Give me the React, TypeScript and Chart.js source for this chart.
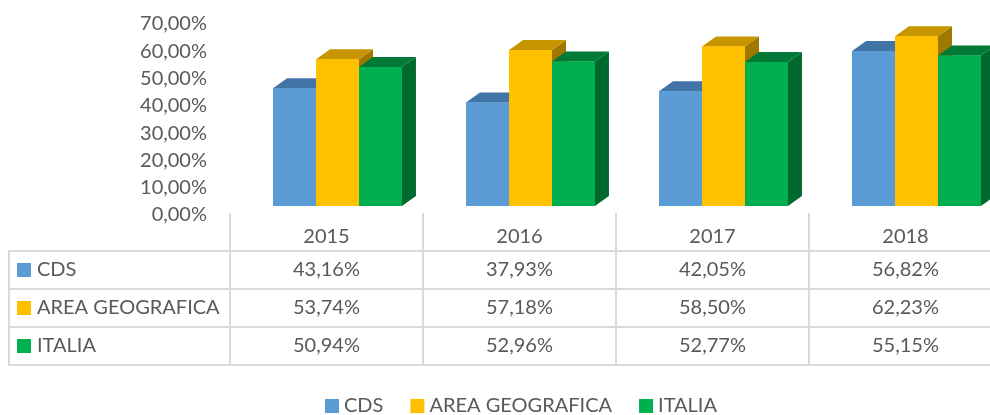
import React, { useEffect, useRef } from "react";
import { Chart, registerables } from "chart.js";

Chart.register(...registerables);

// ---- data ----
const categories = ["2015", "2016", "2017", "2018"];
const seriesNames = ["CDS", "AREA GEOGRAFICA", "ITALIA"];
const cdsValues = [43.16, 37.93, 42.05, 56.82];
const areaGeograficaValues = [53.74, 57.18, 58.5, 62.23];
const italiaValues = [50.94, 52.96, 52.77, 55.15];
const yMin = 0;
const yMax = 70;
const yStep = 10;

// ---- styles ----
const FRONT = ["#5B9BD5", "#FFC000", "#00B050"];
const TOP = ["#4374A8", "#C69500", "#007A36"];
const SIDE = ["#355E88", "#A07800", "#00692E"];
const TEXT = "#595959";
const GRID = "#D9D9D9";
const FONT = "Lato";
const FONT_SIZE = 20;
const DEPTH_X = 14;
const DEPTH_Y = 10;
const TABLE_SHIFT = 11;

const fmt = (v: number) => v.toFixed(2).replace(".", ",") + "%";

const threeD = {
  id: "threeD",
  afterDatasetsDraw(chart: any) {
    const ctx = chart.ctx;
    const metas = chart.data.datasets.map((_: any, i: number) => chart.getDatasetMeta(i));
    ctx.save();
    categories.forEach((_, c) => {
      metas.forEach((meta: any, i: number) => {
        const el = meta.data[c];
        if (!el) return;
        const p = el.getProps(["x", "y", "base", "width"], true);
        const l = p.x - p.width / 2;
        const r = p.x + p.width / 2;
        // side
        ctx.fillStyle = SIDE[i];
        ctx.beginPath();
        ctx.moveTo(r, p.y);
        ctx.lineTo(r + DEPTH_X, p.y - DEPTH_Y);
        ctx.lineTo(r + DEPTH_X, p.base - DEPTH_Y);
        ctx.lineTo(r, p.base);
        ctx.closePath();
        ctx.fill();
        // top
        ctx.fillStyle = TOP[i];
        ctx.beginPath();
        ctx.moveTo(l, p.y);
        ctx.lineTo(l + DEPTH_X, p.y - DEPTH_Y);
        ctx.lineTo(r + DEPTH_X, p.y - DEPTH_Y);
        ctx.lineTo(r, p.y);
        ctx.closePath();
        ctx.fill();
        // front
        ctx.fillStyle = FRONT[i];
        ctx.fillRect(l, p.y, p.width, p.base - p.y);
      });
    });
    ctx.restore();
  },
};

const dataTable = {
  id: "dataTable",
  afterDraw(chart: any) {
    const ctx = chart.ctx;
    const xs = chart.scales.x;
    const colW = xs.getPixelForValue(1) - xs.getPixelForValue(0);
    const centers = categories.map((_, i) => xs.getPixelForValue(i) - TABLE_SHIFT);
    const edges = [centers[0] - colW / 2, ...centers.map((c) => c + colW / 2)];
    const tableLeft = 9;
    const headerTop = chart.chartArea.bottom + 7;
    const bodyTop = 251;
    const rowH = 38;
    const series = [cdsValues, areaGeograficaValues, italiaValues];
    const bottom = bodyTop + rowH * series.length;
    const right = edges[edges.length - 1];

    ctx.save();
    ctx.strokeStyle = GRID;
    ctx.lineWidth = 2;
    ctx.beginPath();
    edges.forEach((x) => {
      ctx.moveTo(x, headerTop);
      ctx.lineTo(x, bottom);
    });
    ctx.moveTo(tableLeft, bodyTop);
    ctx.lineTo(tableLeft, bottom);
    for (let r = 0; r <= series.length; r++) {
      ctx.moveTo(tableLeft - 1, bodyTop + r * rowH);
      ctx.lineTo(right, bodyTop + r * rowH);
    }
    ctx.stroke();

    ctx.fillStyle = TEXT;
    ctx.font = `${FONT_SIZE}px ${FONT}`;
    ctx.textBaseline = "middle";
    ctx.textAlign = "center";
    categories.forEach((c, i) => ctx.fillText(c, centers[i], (headerTop + bodyTop) / 2 + 5));
    series.forEach((vals, r) => {
      const cy = bodyTop + r * rowH + rowH / 2;
      ctx.fillStyle = FRONT[r];
      ctx.fillRect(17, cy - 7, 14, 14);
      ctx.fillStyle = TEXT;
      ctx.textAlign = "left";
      ctx.fillText(seriesNames[r], 37, cy);
      ctx.textAlign = "center";
      vals.forEach((v, i) => ctx.fillText(fmt(v), centers[i], cy));
    });

    // legend
    const ly = 406;
    const sq = 14;
    const gapSq = 5;
    const gapItem = 27;
    const widths = seriesNames.map((n) => sq + gapSq + ctx.measureText(n).width);
    const total = widths.reduce((a, b) => a + b, 0) + gapItem * (widths.length - 1);
    let x = 521 - total / 2;
    ctx.textAlign = "left";
    seriesNames.forEach((n, i) => {
      ctx.fillStyle = FRONT[i];
      ctx.fillRect(x, ly - sq / 2, sq, sq);
      ctx.fillStyle = TEXT;
      ctx.fillText(n, x + sq + gapSq, ly);
      x += widths[i] + gapItem;
    });
    ctx.restore();
  },
};

export default function App() {
  const ref = useRef<HTMLCanvasElement>(null);
  useEffect(() => {
    if (!ref.current) return;
    const values = [cdsValues, areaGeograficaValues, italiaValues];
    const chart = new Chart(ref.current, {
      type: "bar",
      data: {
        labels: categories,
        datasets: seriesNames.map((name, i) => ({
          label: name,
          data: values[i],
          backgroundColor: FRONT[i],
          borderWidth: 0,
          categoryPercentage: 0.668,
          barPercentage: 1,
        })),
      },
      options: {
        animation: false,
        responsive: false,
        devicePixelRatio: 1,
        layout: { padding: { left: 0, right: 7, top: 15, bottom: 209 } },
        plugins: { legend: { display: false }, tooltip: { enabled: false } },
        scales: {
          x: { display: false },
          y: {
            min: yMin,
            max: yMax,
            grid: { display: false, drawTicks: false },
            border: { display: false },
            ticks: {
              stepSize: yStep,
              padding: 34,
              labelOffset: 9,
              color: TEXT,
              font: { family: FONT, size: FONT_SIZE },
              callback: (v: any) => fmt(Number(v)),
            },
            afterFit: (s: any) => {
              s.width = 241;
              s.paddingTop = 0;
              s.paddingBottom = 0;
            },
          },
        },
      },
      plugins: [threeD, dataTable],
    });
    return () => chart.destroy();
  }, []);
  return (
    <div style={{ position: "fixed", left: 0, top: 0, width: 990, height: 415, overflow: "hidden", background: "#fff" }}>
      <canvas ref={ref} width={1020} height={415} style={{ width: 1020, height: 415, display: "block" }} />
    </div>
  );
}
